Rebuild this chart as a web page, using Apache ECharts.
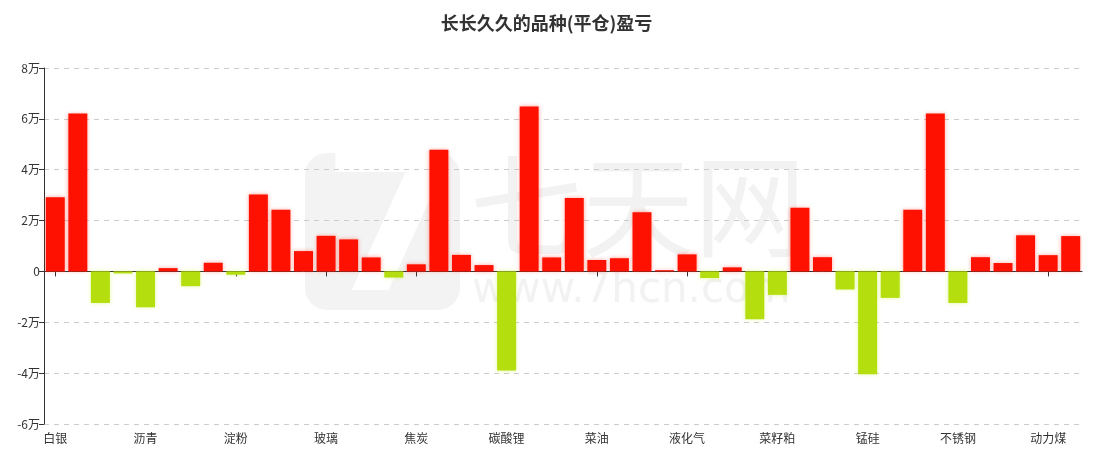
<!DOCTYPE html>
<html>
<head>
<meta charset="utf-8">
<script src="https://cdn.jsdelivr.net/npm/echarts@6/dist/echarts.min.js"></script>
<style>html,body{margin:0;padding:0;background:#fff}#c{width:1093px;height:456px}</style>
</head>
<body>
<div id="c"></div>
<script>
var titleText = '长长久久的品种(平仓)盈亏';
var categories = ['白银','铝','镍','锡','沥青','燃油','橡胶','纸浆','淀粉','玉米','豆粕','豆油','玻璃','纯碱','甲醇','尿素','焦炭','焦煤','铁矿石','螺纹钢','碳酸锂','工业硅','棕榈油','豆一','菜油','白糖','棉花','苹果','液化气','PTA','乙二醇','PVC','菜籽粕','红枣','花生','生猪','锰硅','硅铁','热卷','黄金','不锈钢','铜','锌','铅','动力煤','原油'];
var values = [29200,62100,-12400,-800,-14100,1300,-5800,3400,-1300,30300,24300,8000,14000,12600,5500,-2400,2800,47900,6500,2500,-39000,64900,5500,28900,4500,5200,23300,500,6700,-2600,1600,-18800,-9200,25000,5600,-7100,-40400,-10400,24300,62100,-12400,5600,3300,14200,6400,13900];
var yTicks = [-60000,-40000,-20000,0,20000,40000,60000,80000];

var RED = '#ff1100', GREEN = '#b4de0e';
var chart = echarts.init(document.getElementById('c'));
chart.setOption({
  backgroundColor: '#fff',
  animation: false,
  title: {text: titleText, left: 'center', top: 9,
    textStyle: {fontSize: 18, fontWeight: 'bold', color: '#333', fontFamily: 'Noto Sans CJK SC'}},
  graphic: [
    {type: 'rect', z: -10, silent: true, shape: {x: 305, y: 153, width: 155, height: 157, r: 22}, style: {fill: '#f3f3f3'}},
    {type: 'text', z: -9, silent: true, left: 322, top: 138, style: {text: '7', fontSize: 200, fontWeight: 'bold', fontFamily: 'DejaVu Sans', fill: '#ffffff'}},
    {type: 'text', z: -10, silent: true, left: 470, top: 150, style: {text: '七天网', fontSize: 112, fontFamily: 'Noto Sans CJK SC', fill: '#f2f2f2'}},
    {type: 'text', z: -10, silent: true, left: 472, top: 270, style: {text: 'www.7hcn.com', fontSize: 42, fontFamily: 'DejaVu Sans', fill: '#f2f2f2'}}
  ],
  grid: {left: 44, right: 11, top: 68, bottom: 32, containLabel: false},
  xAxis: [{
    type: 'category', data: categories, position: 'bottom',
    axisLine: {onZero: true, lineStyle: {color: '#333', width: 1}},
    axisTick: {show: true, interval: 3, alignWithLabel: true, length: 5, lineStyle: {color: '#333'}},
    axisLabel: {show: false},
    splitLine: {show: false}
  }, {
    type: 'category', data: categories, position: 'bottom',
    axisLine: {show: false, onZero: false},
    axisTick: {show: false},
    axisLabel: {show: true, interval: 3, color: '#333', fontSize: 12, margin: 8, fontFamily: 'Noto Sans CJK SC'},
    splitLine: {show: false}
  }],
  yAxis: {
    type: 'value', min: yTicks[0], max: yTicks[yTicks.length - 1], interval: 20000,
    axisLine: {show: true, lineStyle: {color: '#333'}},
    axisTick: {show: true, length: 5, lineStyle: {color: '#333'}},
    axisLabel: {color: '#333', fontSize: 12, margin: 4, fontFamily: 'Noto Sans CJK SC',
      formatter: function (v) { return v === 0 ? '0' : (v / 10000) + '万'; }},
    splitLine: {show: true, lineStyle: {color: '#ccc', type: [5, 5]}}
  },
  series: [{
    type: 'bar', xAxisIndex: 0, barCategoryGap: '16%',
    data: values.map(function (v) {
      return {value: v, itemStyle: {color: v >= 0 ? RED : GREEN,
        shadowBlur: 4, shadowColor: v >= 0 ? 'rgba(255,60,40,0.45)' : 'rgba(200,240,40,0.45)'}};
    })
  }]
});
</script>
</body>
</html>
